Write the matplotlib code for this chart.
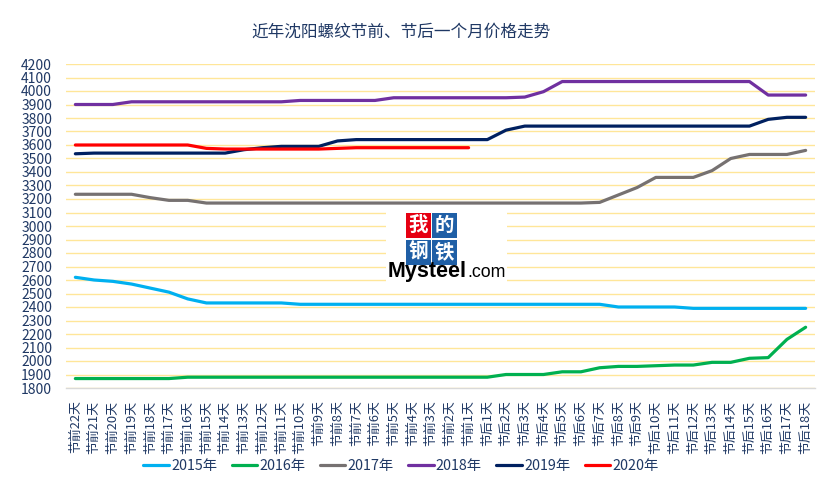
import numpy as np
import matplotlib
matplotlib.use("Agg")
import matplotlib.pyplot as plt
from matplotlib.patches import Rectangle

plt.rcParams['font.family'] = ['Noto Sans CJK SC', 'DejaVu Sans']

# 类别：节前22天 ... 节前1天, 节后1天 ... 节后18天
categorias = [f"节前{i}天" for i in range(22, 0, -1)] + [f"节后{i}天" for i in range(1, 19)]

p2015 = [2620, 2600, 2590, 2570, 2540, 2510, 2460, 2430, 2430, 2430, 2430, 2430,
         2420, 2420, 2420, 2420, 2420, 2420, 2420, 2420, 2420, 2420, 2420, 2420,
         2420, 2420, 2420, 2420, 2420, 2400, 2400, 2400, 2400, 2390, 2390, 2390,
         2390, 2390, 2390, 2390]
p2016 = [1870, 1870, 1870, 1870, 1870, 1870, 1880, 1880, 1880, 1880, 1880, 1880,
         1880, 1880, 1880, 1880, 1880, 1880, 1880, 1880, 1880, 1880, 1880, 1900,
         1900, 1900, 1920, 1920, 1950, 1960, 1960, 1965, 1970, 1970, 1990, 1990,
         2020, 2025, 2160, 2250]
p2017 = [3235, 3235, 3235, 3235, 3210, 3190, 3190, 3170, 3170, 3170, 3170, 3170,
         3170, 3170, 3170, 3170, 3170, 3170, 3170, 3170, 3170, 3170, 3170, 3170,
         3170, 3170, 3170, 3170, 3175, 3230, 3285, 3360, 3360, 3360, 3410, 3500,
         3530, 3530, 3530, 3560]
p2018 = [3900, 3900, 3900, 3920, 3920, 3920, 3920, 3920, 3920, 3920, 3920, 3920,
         3930, 3930, 3930, 3930, 3930, 3950, 3950, 3950, 3950, 3950, 3950, 3950,
         3955, 3995, 4070, 4070, 4070, 4070, 4070, 4070, 4070, 4070, 4070, 4070,
         4070, 3970, 3970, 3970]
p2019 = [3535, 3540, 3540, 3540, 3540, 3540, 3540, 3540, 3540, 3565, 3580, 3590,
         3590, 3590, 3630, 3640, 3640, 3640, 3640, 3640, 3640, 3640, 3640, 3710,
         3740, 3740, 3740, 3740, 3740, 3740, 3740, 3740, 3740, 3740, 3740, 3740,
         3740, 3790, 3805, 3805]
p2020 = [3600, 3600, 3600, 3600, 3600, 3600, 3600, 3575, 3570, 3570, 3570, 3570,
         3570, 3570, 3575, 3580, 3580, 3580, 3580, 3580, 3580, 3580]

series = [
    ("2015年", p2015, "#00B0F0"),
    ("2016年", p2016, "#00B050"),
    ("2017年", p2017, "#767171"),
    ("2018年", p2018, "#7030A0"),
    ("2019年", p2019, "#002060"),
    ("2020年", p2020, "#FF0000"),
]

W, H = 834, 484
navy = "#1F3864"

fig = plt.figure(figsize=(W / 100, H / 100), dpi=100)
ax = fig.add_axes([66 / W, 1 - 388 / H, (815 - 66) / W, (388 - 64) / H])

x = np.arange(len(categorias))
for nome, valores, cor in series:
    ax.plot(x[:len(valores)], valores, color=cor, linewidth=2.3, label=nome,
            solid_capstyle="round", zorder=3)

ax.set_xlim(-0.5, len(categorias) - 0.5)
ax.set_ylim(1800, 4200)
ax.set_yticks(np.arange(1800, 4201, 100))
ax.set_xticks(x)
ax.set_xticklabels(categorias, rotation=90, va="top", ha="center")
ax.tick_params(axis="y", length=0, pad=10, labelsize=10, labelcolor=navy)
ax.tick_params(axis="x", length=0, pad=9, labelsize=9.3, labelcolor=navy)

ax.grid(True, axis="y", color="#FFE699", linewidth=1.0, zorder=0)
ax.set_axisbelow(True)
for s in ["top", "right", "left"]:
    ax.spines[s].set_visible(False)
ax.spines["bottom"].set_color("#D9D9D9")
ax.spines["bottom"].set_linewidth(1.0)

# título
fig.text(401 / W, 1 - 32 / H, "近年沈阳螺纹节前、节后一个月价格走势",
         ha="center", va="center", fontsize=12, color=navy)

# legenda
fig.legend(loc="center", bbox_to_anchor=(401 / W, 1 - 466 / H), ncol=6,
           frameon=False, fontsize=10.3, handlelength=1.8, handletextpad=0.15,
           columnspacing=1.0, labelcolor=navy)

# marca d'água Mysteel
def px(xp, yp):
    return xp / W, 1 - yp / H

fig.patches.append(Rectangle(px(386, 284), 121 / W, 73 / H, transform=fig.transFigure,
                             facecolor="white", edgecolor="none", zorder=2))
caixas = [("我", 406, 213, "#E60012"), ("的", 432, 213, "#1F5FA6"),
          ("钢", 406, 240, "#1F5FA6"), ("铁", 432, 240, "#1F5FA6")]
for ch, bx, by, cor in caixas:
    fig.patches.append(Rectangle(px(bx, by + 25), 25 / W, 25 / H, transform=fig.transFigure,
                                 facecolor=cor, edgecolor="none", zorder=3))
    fig.text(*px(bx + 12.5, by + 12.5), ch, ha="center", va="center",
             fontsize=14, color="white", fontweight="bold", zorder=4)
fig.text(*px(467, 277), "Mysteel", ha="right", va="baseline", fontsize=15.5,
         fontweight="bold", family="Liberation Sans", color="black", zorder=4)
fig.text(*px(467, 277), ".com", ha="left", va="baseline", fontsize=12.8,
         family="Liberation Sans", color="black", zorder=4)

fig.savefig("out.png", dpi=100)
